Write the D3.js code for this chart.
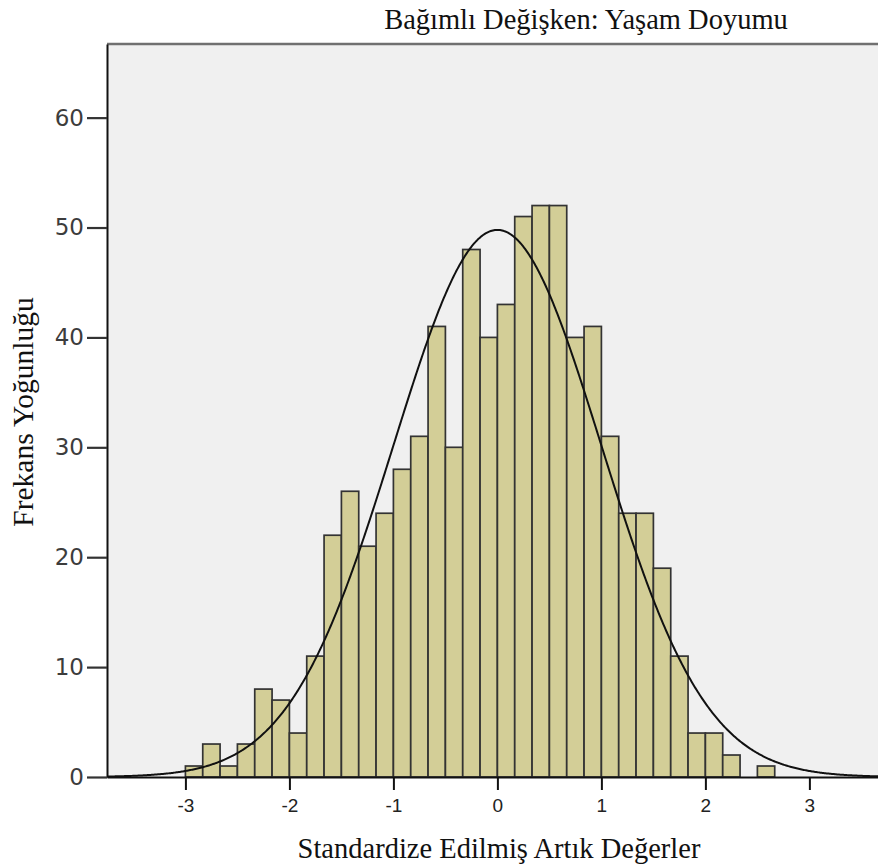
<!DOCTYPE html>
<html lang="tr">
<head>
  <meta charset="UTF-8">
  <title>Histogram - Yaşam Doyumu</title>
  <script src="https://d3js.org/d3.v7.min.js"></script>
  <style>
    body { margin: 0; background: #fff; }
  </style>
</head>
<body>
  <svg width="878" height="868"></svg>
  <script>
    // histogram counts, bins of 1/6 starting at -3
    const counts = [1, 3, 1, 3, 8, 7, 4, 11, 22, 26, 21, 24, 28, 31, 41, 30, 48,
                    40, 43, 51, 52, 52, 40, 41, 31, 24, 24, 19, 11, 4, 4, 2, 0, 1];
    const binStart = -3;
    const binWidth = 1 / 6;
    const xTicks = [-3, -2, -1, 0, 1, 2, 3];
    const yTicks = [0, 10, 20, 30, 40, 50, 60];
    // normal curve fitted by SPSS
    const fitMean = 0;
    const fitSd = 0.999;
    const fitN = 748;

    const titleText = "Bağımlı Değişken: Yaşam Doyumu";
    const xTitle = "Standardize Edilmiş Artık Değerler";
    const yTitle = "Frekans Yoğunluğu";

    const svg = d3.select("svg");

    const x = d3.scaleLinear().domain([-3.754, 3.754]).range([107, 887.8]);
    const y = d3.scaleLinear().domain([0, 66.7]).range([777, 44]);

    // plot background
    svg.append("rect")
      .attr("x", x.range()[0]).attr("y", y.range()[1])
      .attr("width", x.range()[1] - x.range()[0])
      .attr("height", y.range()[0] - y.range()[1])
      .attr("fill", "#f0f0f0");
    svg.append("line")
      .attr("x1", x.range()[0]).attr("x2", x.range()[1])
      .attr("y1", 44).attr("y2", 44)
      .attr("stroke", "#707070").attr("stroke-width", 2.5);

    // bars
    svg.append("g").selectAll("rect")
      .data(counts.map((c, i) => ({ x0: binStart + i * binWidth, x1: binStart + (i + 1) * binWidth, c })))
      .join("rect")
      .filter(d => d.c > 0)
      .attr("x", d => x(d.x0))
      .attr("width", d => x(d.x1) - x(d.x0))
      .attr("y", d => y(d.c))
      .attr("height", d => y(0) - y(d.c))
      .attr("fill", "#d3ce97")
      .attr("stroke", "#333")
      .attr("stroke-width", 1.7);

    // normal curve
    const pdf = v => Math.exp(-0.5 * ((v - fitMean) / fitSd) ** 2) / (fitSd * Math.sqrt(2 * Math.PI));
    const curvePts = d3.range(x.domain()[0], x.domain()[1] + 0.005, 0.01);
    svg.append("path")
      .attr("d", d3.line().x(v => x(v)).y(v => y(fitN * binWidth * pdf(v)))(curvePts))
      .attr("fill", "none")
      .attr("stroke", "#111")
      .attr("stroke-width", 2);

    // axes
    const yAxis = svg.append("g")
      .attr("transform", "translate(107,0)")
      .call(d3.axisLeft(y).tickValues(yTicks).tickSize(20).tickSizeOuter(0).tickPadding(3).tickFormat(d => String(d)));
    const xAxis = svg.append("g")
      .attr("transform", "translate(0,777)")
      .call(d3.axisBottom(x).tickValues(xTicks).tickSize(13).tickSizeOuter(0).tickPadding(9).tickFormat(d => String(d)));

    yAxis.select(".domain").attr("stroke", "#111").attr("stroke-width", 2);
    xAxis.select(".domain").attr("stroke", "#111").attr("stroke-width", 2);
    yAxis.selectAll(".tick line").attr("stroke", "#333").attr("stroke-width", 2.2);
    xAxis.selectAll(".tick line").attr("stroke", "#111").attr("stroke-width", 2);
    yAxis.selectAll(".tick text")
      .attr("font-family", "DejaVu Sans, Verdana, sans-serif")
      .attr("font-size", 23).attr("fill", "#3c3c3c");
    xAxis.selectAll(".tick text")
      .attr("font-family", "Liberation Sans, Arial, sans-serif")
      .attr("font-size", 19).attr("fill", "#222");

    // titles
    const serif = "Liberation Serif, Times New Roman, serif";
    svg.append("text")
      .attr("x", 586).attr("y", 29)
      .attr("text-anchor", "middle")
      .attr("font-family", serif).attr("font-size", 28.5).attr("fill", "#111")
      .text(titleText);
    svg.append("text")
      .attr("x", 499).attr("y", 858)
      .attr("text-anchor", "middle")
      .attr("font-family", serif).attr("font-size", 28.5).attr("fill", "#111")
      .text(xTitle);
    svg.append("text")
      .attr("transform", "translate(33,412) rotate(-90)")
      .attr("text-anchor", "middle")
      .attr("font-family", serif).attr("font-size", 29.5).attr("fill", "#111")
      .text(yTitle);
  </script>
</body>
</html>
